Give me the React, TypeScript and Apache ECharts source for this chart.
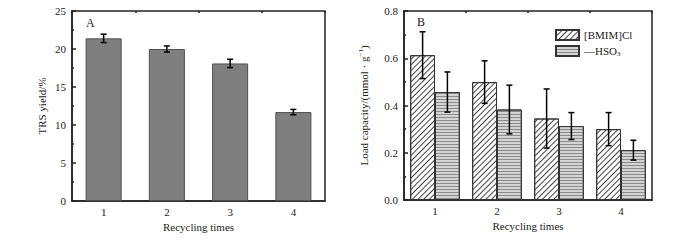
import React, { useEffect, useRef } from "react";
import * as echarts from "echarts";

const categories = ["1", "2", "3", "4"];
const trsYield = [21.4, 20.0, 18.1, 11.7];
const trsErr = [0.55, 0.4, 0.55, 0.35];
const bmimLoad = [0.613, 0.499, 0.345, 0.3];
const bmimErr = [0.099, 0.09, 0.125, 0.07];
const hso3Load = [0.457, 0.383, 0.313, 0.211];
const hso3Err = [0.085, 0.103, 0.057, 0.042];
const leftTicks = { min: 0, max: 25, interval: 5 };
const rightTicks = { min: 0, max: 0.8, interval: 0.2 };

const FONT = "'Liberation Serif', 'Times New Roman', serif";

function errorSeries(xAxisIndex: number, yAxisIndex: number, vals: number[], errs: number[], off: number) {
  return {
    type: "custom",
    xAxisIndex,
    yAxisIndex,
    z: 10,
    silent: true,
    data: vals.map((v, i) => [i, v, errs[i]]),
    encode: { x: 0, y: 1 },
    renderItem: (params: any, api: any) => {
      const cat = api.value(0);
      const val = api.value(1);
      const err = api.value(2);
      const c = api.coord([cat, val]);
      const bw = api.size([1, 0])[0];
      const x = c[0] + off * bw;
      const top = api.coord([cat, val + err])[1];
      const bot = api.coord([cat, val - err])[1];
      const hw = 3;
      const style = { stroke: "#000", lineWidth: 1.5 };
      return {
        type: "group",
        children: [
          { type: "line", shape: { x1: x, y1: top, x2: x, y2: bot }, style },
          { type: "line", shape: { x1: x - hw, y1: top, x2: x + hw, y2: top }, style },
          { type: "line", shape: { x1: x - hw, y1: bot, x2: x + hw, y2: bot }, style },
        ],
      };
    },
  };
}

function catAxis(gridIndex: number, main: boolean) {
  return {
    type: "category",
    gridIndex,
    data: categories,
    name: main ? "Recycling times" : "",
    nameLocation: "middle",
    nameGap: 18,
    nameTextStyle: { fontFamily: FONT, fontSize: 11, color: "#222" },
    axisLine: { show: main, lineStyle: { color: "#222", width: 1.5 } },
    axisTick: main
      ? { show: true, inside: true, alignWithLabel: true, length: 3, lineStyle: { color: "#222", width: 1.5 } }
      : { show: true, inside: true, alignWithLabel: false, length: 2, lineStyle: { color: "#222", width: 1.5 } },
    axisLabel: { show: main, fontFamily: FONT, fontSize: 11, color: "#222", margin: 5 },
    splitLine: { show: false },
  };
}

export default function App() {
  const ref = useRef<HTMLDivElement>(null);
  useEffect(() => {
    if (!ref.current) return;
    const chart = echarts.init(ref.current, undefined, { renderer: "svg" });
    const bmimDecal = {
      symbol: "rect",
      symbolSize: 1,
      color: "#444",
      dashArrayX: [1, 0],
      dashArrayY: [1, 2.5],
      rotation: -Math.PI / 4,
    };
    const hsoDecal = {
      symbol: "rect",
      symbolSize: 1,
      color: "#8a8a8a",
      dashArrayX: [1, 0],
      dashArrayY: [1, 1.5],
      rotation: 0,
    };
    chart.setOption({
      animation: false,
      backgroundColor: "#fff",
      textStyle: { fontFamily: FONT },
      grid: [
        { left: 72, top: 11, width: 253, height: 190, show: true, borderColor: "#222", borderWidth: 1.5, backgroundColor: "transparent" },
        { left: 404, top: 11, width: 248, height: 189, show: true, borderColor: "#222", borderWidth: 1.5, backgroundColor: "transparent" },
      ],
      xAxis: [catAxis(0, true), catAxis(1, true), catAxis(0, false), catAxis(1, false)],
      yAxis: [
        {
          type: "value",
          gridIndex: 0,
          ...leftTicks,
          name: "TRS yield/%",
          nameLocation: "middle",
          nameGap: 25,
          nameTextStyle: { fontFamily: FONT, fontSize: 11, color: "#222" },
          axisLine: { show: true, lineStyle: { color: "#222", width: 1.5 } },
          axisTick: { show: true, inside: true, length: 4, lineStyle: { color: "#222", width: 1.5 } },
          minorTick: { show: true, splitNumber: 2, length: 2, lineStyle: { color: "#222", width: 1.5 } },
          axisLabel: { fontFamily: FONT, fontSize: 11, color: "#222", margin: 6 },
          splitLine: { show: false },
        },
        {
          type: "value",
          gridIndex: 1,
          ...rightTicks,
          name: "Load capacity/(mmol · g{sup|−1})",
          nameLocation: "middle",
          nameGap: 34,
          nameTextStyle: {
            fontFamily: FONT,
            fontSize: 11,
            color: "#222",
            rich: { sup: { fontFamily: FONT, fontSize: 7, color: "#222", verticalAlign: "top", padding: [0, 0, 6, 0] } },
          },
          axisLine: { show: true, lineStyle: { color: "#222", width: 1.5 } },
          axisTick: { show: true, inside: true, length: 4, lineStyle: { color: "#222", width: 1.5 } },
          minorTick: { show: true, splitNumber: 2, length: 2, lineStyle: { color: "#222", width: 1.5 } },
          axisLabel: { fontFamily: FONT, fontSize: 11, color: "#222", margin: 6, formatter: (v: number) => v.toFixed(1) },
          splitLine: { show: false },
        },
      ],
      legend: {
        orient: "vertical",
        left: 555,
        top: 29,
        padding: 0,
        itemWidth: 23,
        itemHeight: 10,
        itemGap: 4,
        icon: "rect",
        textStyle: {
          fontFamily: FONT,
          fontSize: 11,
          color: "#222",
          rich: { sub: { fontFamily: FONT, fontSize: 7, color: "#222", verticalAlign: "bottom", padding: [6, 0, 0, 0] } },
        },
        formatter: (name: string) => (name === "—HSO3" ? "—HSO{sub|3}" : name),
        data: ["[BMIM]Cl", "—HSO3"],
      },
      series: [
        {
          type: "bar",
          xAxisIndex: 0,
          yAxisIndex: 0,
          data: trsYield,
          barWidth: "57%",
          itemStyle: { color: "#7f7f7f", borderColor: "#505050", borderWidth: 1 },
        },
        errorSeries(0, 0, trsYield, trsErr, 0),
        {
          type: "bar",
          name: "[BMIM]Cl",
          xAxisIndex: 1,
          yAxisIndex: 1,
          data: bmimLoad,
          barWidth: "40%",
          barGap: "0%",
          itemStyle: { color: "#ffffff", borderColor: "#333", borderWidth: 1, decal: bmimDecal },
        },
        {
          type: "bar",
          name: "—HSO3",
          xAxisIndex: 1,
          yAxisIndex: 1,
          data: hso3Load,
          barWidth: "40%",
          barGap: "0%",
          itemStyle: { color: "#d4d4d4", borderColor: "#333", borderWidth: 1, decal: hsoDecal },
        },
        errorSeries(1, 1, bmimLoad, bmimErr, -0.2),
        errorSeries(1, 1, hso3Load, hso3Err, 0.2),
      ],
      graphic: [
        { type: "text", left: 86, top: 17, style: { text: "A", font: `12px ${FONT}`, fill: "#222" } },
        { type: "text", left: 417, top: 16, style: { text: "B", font: `12px ${FONT}`, fill: "#222" } },
      ],
    });
    return () => chart.dispose();
  }, []);
  return <div ref={ref} style={{ position: "fixed", left: 0, top: 0, width: 700, height: 240, background: "#fff" }} />;
}
